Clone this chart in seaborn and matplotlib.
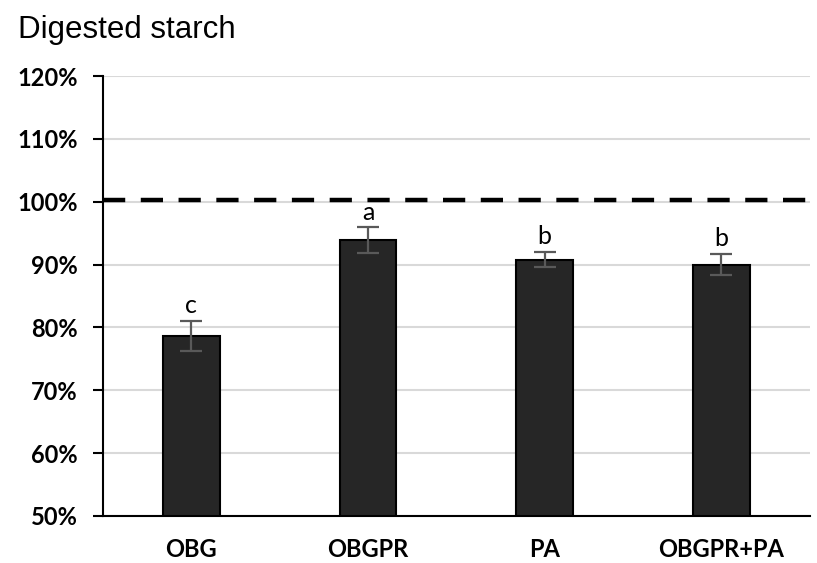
import pandas as pd
import seaborn as sns
import matplotlib.pyplot as plt

# values (percent)
groups = ["OBG", "OBGPR", "PA", "OBGPR+PA"]
digested = [78.7, 93.9, 90.8, 90.0]
sd = [2.4, 2.0, 1.2, 1.7]
letters = ["c", "a", "b", "b"]
reference_level = 100.3
y_ticks = [50, 60, 70, 80, 90, 100, 110, 120]

df = pd.DataFrame({"group": groups, "digested": digested})

sns.set_theme(style="white")
plt.rcParams['font.family'] = ['Lato', 'DejaVu Sans']
plt.rcParams['text.color'] = 'black'

fig = plt.figure(figsize=(8.17, 5.63), dpi=100)
ax = fig.add_axes([0.126, 0.0835, 0.865, 0.7815])

ax.yaxis.grid(True, color="#d9d9d9", linewidth=1.5, zorder=0)
ax.set_axisbelow(True)

sns.barplot(data=df, x="group", y="digested", ax=ax, color="#262626",
            edgecolor="black", linewidth=1.5, width=0.32, saturation=1)

ax.errorbar(range(len(groups)), digested, yerr=sd, fmt="none",
            ecolor="#595959", elinewidth=1.6, capsize=8, capthick=1.6, zorder=5)

for i, (v, e, l) in enumerate(zip(digested, sd, letters)):
    ax.text(i, v + e + 0.6, l, ha="center", va="bottom", fontsize=18,
            color="black", family=["Lato", "DejaVu Sans"])

ax.axhline(reference_level, color="black", linewidth=3.2,
           dashes=(5, 3.5), zorder=6)

ax.set_ylim(50, 120)
ax.set_xlim(-0.5, 3.5)
ax.set_yticks(y_ticks)
ax.set_yticklabels([f"{t}%" for t in y_ticks])
ax.set_xlabel("")
ax.set_ylabel("")

for lab in ax.get_yticklabels() + ax.get_xticklabels():
    lab.set_fontweight("bold")
    lab.set_fontsize(17)
    lab.set_color("black")

ax.tick_params(axis="y", direction="out", length=7, width=1.5, color="black",
               left=True, pad=11)
ax.tick_params(axis="x", length=0, pad=16)

sns.despine(ax=ax)
for s in ["left", "bottom"]:
    ax.spines[s].set_color("black")
    ax.spines[s].set_linewidth(1.5)

fig.text(0.022, 0.947, "Digested starch", fontsize=22.5, color="black",
         family=["Liberation Sans", "DejaVu Sans"], va="center", ha="left")

fig.savefig("out.png", dpi=100)
